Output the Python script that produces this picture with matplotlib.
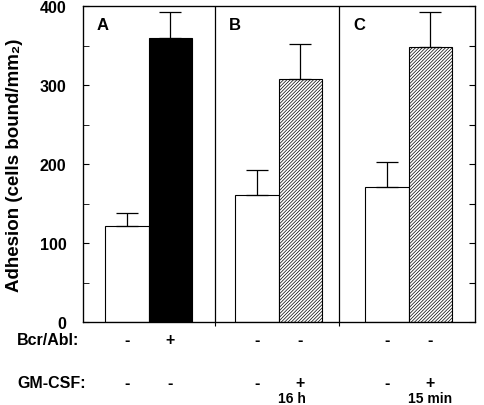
import numpy as np
import matplotlib.pyplot as plt

plt.rcParams['font.family'] = ['Liberation Sans', 'DejaVu Sans']
plt.rcParams['font.weight'] = 'bold'
plt.rcParams['hatch.linewidth'] = 0.5

# datos
panels = ['A', 'B', 'C']
control = [121, 161, 171]
control_err = [17, 31, 32]
treated = [360, 308, 348]
treated_err = [32, 44, 44]
bcr_abl = ['-', '+', '-', '-', '-', '-']
gm_csf = ['-', '-', '-', '+', '-', '+']
gm_time = ['', '', '', '16 h', '', '15 min']
yticks = [0, 100, 200, 300, 400]

fig = plt.figure(figsize=(4.84, 4.06), dpi=100)
ax = fig.add_axes([0.1715, 0.2044, 0.81, 0.7783])

# posiciones (unidades ~ pixeles desde el eje izquierdo)
w = 43.5
left = np.array([22, 152, 282])
x_ctrl = left + w / 2
x_trt = left + 1.5 * w
dividers = [132, 256]

ax.bar(x_ctrl, control, w, color='white', edgecolor='black', linewidth=0.8)
ax.errorbar(x_ctrl, control, yerr=[np.zeros(3), control_err], fmt='none',
            ecolor='black', elinewidth=0.9, capsize=8, capthick=0.9)

ax.bar(x_trt[:1], treated[:1], w, color='black', edgecolor='black', linewidth=0.8)
ax.bar(x_trt[1:], treated[1:], w, color='white', edgecolor='black',
       linewidth=0.8, hatch='//////////')
ax.errorbar(x_trt, treated, yerr=[np.zeros(3), treated_err], fmt='none',
            ecolor='black', elinewidth=0.9, capsize=8, capthick=0.9)

for d in dividers:
    ax.axvline(d, color='black', linewidth=0.9)

for i, p in enumerate(panels):
    xp = [0, dividers[0], dividers[1]][i] + 14
    ax.text(xp, 376, p, fontsize=12, fontweight='bold', va='center', ha='left')

ax.set_xlim(0, 392)
ax.set_ylim(0, 400)
ax.set_yticks(yticks)
ax.set_yticks(np.arange(50, 400, 100), minor=True)
ax.tick_params(axis='y', which='both', direction='in', labelsize=11.5, pad=12)
ax.tick_params(axis='y', which='major', length=4)
ax.tick_params(axis='y', which='minor', length=4)
ax.set_xticks(dividers)
ax.set_xticklabels([])
ax.tick_params(axis='x', direction='out', length=3)

# eje derecho con marcas cada 50
ax2 = ax.twinx()
ax2.set_ylim(0, 400)
ax2.set_yticks(np.arange(0, 401, 50))
ax2.set_yticklabels([])
ax2.tick_params(axis='y', direction='in', length=4)

for sp in list(ax.spines.values()):
    sp.set_linewidth(0.9)

ax.set_ylabel('Adhesion (cells bound/mm\u2082)', fontsize=13.5,
              fontweight='bold', labelpad=12)

xs = np.ravel(np.column_stack([x_ctrl, x_trt]))
tr = ax.get_xaxis_transform()
row1 = -0.054
ax.text(-66, row1, 'Bcr/Abl:', transform=tr, ha='left', va='center',
        fontsize=11.5, fontweight='bold', clip_on=False)
ax.text(-66, -0.19, 'GM-CSF:', transform=tr, ha='left', va='center',
        fontsize=11.5, fontweight='bold', clip_on=False)
for x, a, g, t in zip(xs, bcr_abl, gm_csf, gm_time):
    ax.text(x, row1, a, transform=tr, ha='center', va='center',
            fontsize=11.5, fontweight='bold')
    ax.text(x, -0.19, g, transform=tr, ha='center', va='center',
            fontsize=11.5, fontweight='bold')
    if t:
        dx = -8 if t == '16 h' else 0
        ax.text(x + dx, -0.24, t, transform=tr, ha='center', va='center',
                fontsize=10, fontweight='bold')

fig.savefig('out.png', dpi=100)
